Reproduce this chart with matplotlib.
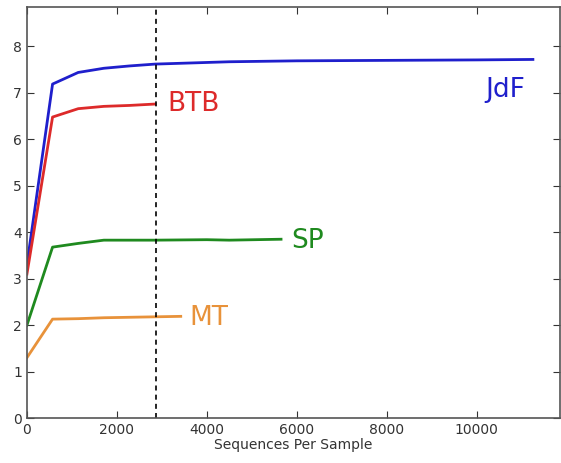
import numpy as np
import matplotlib
matplotlib.use("Agg")
import matplotlib.pyplot as plt

# rarefaction depths (sequences per sample)
jdf_x = [0, 570, 1140, 1710, 2280, 2850, 4500, 6000, 8000, 10000, 11250]
jdf_y = [3.3, 7.19, 7.44, 7.53, 7.58, 7.62, 7.67, 7.69, 7.70, 7.71, 7.72]
btb_x = [0, 570, 1140, 1710, 2280, 2850]
btb_y = [3.1, 6.48, 6.66, 6.71, 6.73, 6.76]
sp_x = [0, 570, 1140, 1710, 2280, 2850, 4000, 4500, 5650]
sp_y = [2.0, 3.68, 3.76, 3.83, 3.83, 3.83, 3.84, 3.83, 3.85]
mt_x = [0, 570, 1140, 1710, 2280, 2850, 3420]
mt_y = [1.3, 2.13, 2.14, 2.16, 2.17, 2.18, 2.19]
cutoff = 2870

fig = plt.figure(figsize=(5.61, 4.63), dpi=100)
ax = fig.add_axes([0.048, 0.097, 0.95, 0.888])

ax.plot(jdf_x, jdf_y, color="#1f1fcc", lw=2)
ax.plot(btb_x, btb_y, color="#dd2a2a", lw=2)
ax.plot(sp_x, sp_y, color="#1f8a1f", lw=2)
ax.plot(mt_x, mt_y, color="#e8923a", lw=2)
ax.axvline(cutoff, color="black", ls=(0, (3, 2.5)), lw=1.2)

ax.text(10200, 7.07, "JdF", color="#1f1fcc", fontsize=19, va="center")
ax.text(3130, 6.77, "BTB", color="#dd2a2a", fontsize=19, va="center")
ax.text(5880, 3.81, "SP", color="#1f8a1f", fontsize=19, va="center")
ax.text(3620, 2.15, "MT", color="#e8923a", fontsize=19, va="center")

ax.set_xlim(0, 11850)
ax.set_ylim(0, 8.85)
ax.set_xticks([0, 2000, 4000, 6000, 8000, 10000])
ax.set_yticks(range(0, 9))
ax.tick_params(direction="in", top=True, right=True, labelsize=10, length=5, colors="#333333")
for s in ax.spines.values():
    s.set_color("#555555")
    s.set_linewidth(1.2)
ax.set_xlabel("Sequences Per Sample", fontsize=10, color="#333333", labelpad=1)

fig.savefig("out.png", dpi=100)
